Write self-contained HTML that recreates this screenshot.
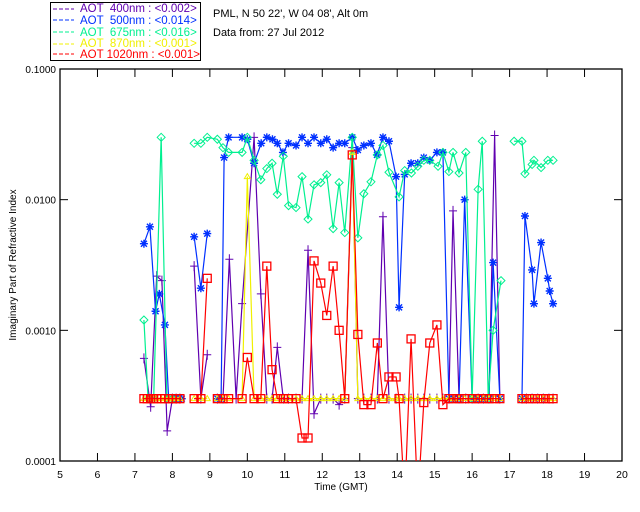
<!DOCTYPE html>
<html><head><meta charset="utf-8"><style>
body{margin:0;background:#fff;}
svg{display:block;font-family:"Liberation Sans",sans-serif;}
</style></head><body>
<svg id="chart" width="640" height="512" viewBox="0 0 640 512" xmlns="http://www.w3.org/2000/svg">
<rect width="640" height="512" fill="#fff"/>
<g>
<rect x="50.5" y="2.5" width="150" height="58" fill="#fff" stroke="#000"/>
<g font-size="11.5">
<g><line x1="53" y1="9" x2="74" y2="9" stroke="#6000b0" stroke-dasharray="4,2"/><text x="80" y="12" fill="#6000b0" xml:space="preserve">AOT  400nm : &lt;0.002&gt;</text></g>
<g><line x1="53" y1="20" x2="74" y2="20" stroke="#0030ff" stroke-dasharray="4,2"/><text x="80" y="24" fill="#0030ff" xml:space="preserve">AOT  500nm : &lt;0.014&gt;</text></g>
<g><line x1="53" y1="32" x2="74" y2="32" stroke="#00f090" stroke-dasharray="4,2"/><text x="80" y="36" fill="#00f090" xml:space="preserve">AOT  675nm : &lt;0.016&gt;</text></g>
<g><line x1="53" y1="44" x2="74" y2="44" stroke="#f0f000" stroke-dasharray="4,2"/><text x="80" y="47" fill="#f0f000" xml:space="preserve">AOT  870nm : &lt;0.001&gt;</text></g>
<g><line x1="53" y1="54" x2="74" y2="54" stroke="#ff0000" stroke-dasharray="4,2"/><text x="80" y="58" fill="#ff0000" xml:space="preserve">AOT 1020nm : &lt;0.001&gt;</text></g>
</g></g>
<text x="213" y="17" font-size="11">PML, N 50 22', W 04 08', Alt 0m</text>
<text x="213" y="36" font-size="11">Data from: 27 Jul 2012</text>
<text transform="translate(16,265) rotate(-90)" text-anchor="middle" font-size="10">Imaginary Part of Refractive Index</text>
<text x="341" y="490" text-anchor="middle" font-size="10">Time (GMT)</text>
<g id="axes"></g>
<defs><clipPath id="pc"><rect x="60" y="69" width="562" height="392"/></clipPath></defs>
<g id="plot" clip-path="url(#pc)"></g>
</svg>
<script>
const xTicks=[5,6,7,8,9,10,11,12,13,14,15,16,17,18,19,20];
const yTicks=[0.0001,0.001,0.01,0.1];
const yTickLabels=["0.0001","0.0010","0.0100","0.1000"];
const F=0.0003;
const t400=[7.24,7.42,7.58,7.72,7.86,8.0,8.1,8.2,null,8.58,8.76,8.93,null,9.2,9.35,9.52,9.7,9.86,10.18,10.36,10.52,10.66,10.8,10.96,11.1,11.3,11.46,11.62,11.78,11.96,12.12,12.29,12.45,12.6,12.8,12.95,13.11,13.3,13.47,13.62,13.78,13.97,14.2,14.37,14.55,14.71,14.87,15.06,15.22,15.38,15.49,15.65,15.83,16.0,16.16,16.3,16.45,16.6,16.74,null,17.33,17.45,17.6,17.75,17.9,18.05,18.16];
const v400=[0.00061,0.00026,0.0026,0.0024,0.00017,F,F,F,null,0.0031,F,0.00065,null,F,F,0.0035,F,0.0016,0.030,0.0019,F,F,0.00074,F,F,F,F,0.0041,0.00023,F,F,F,0.00027,F,0.025,F,F,F,F,0.0074,F,F,F,F,F,F,F,F,F,F,0.0082,F,F,F,F,F,F,0.031,F,null,F,F,F,F,F,F,F];
const t500=[7.24,7.4,7.55,7.65,7.8,7.9,8.05,8.15,8.25,null,8.58,8.76,8.93,null,9.2,9.3,9.38,9.5,9.86,10.0,10.18,10.37,10.52,10.67,10.8,10.95,11.1,11.3,11.46,11.62,11.78,11.96,12.12,12.29,12.45,12.6,12.8,12.95,13.11,13.3,13.46,13.62,13.78,13.97,14.05,14.2,14.37,14.55,14.71,14.87,15.06,15.22,15.38,15.5,15.65,15.8,16.0,16.15,16.3,16.45,16.56,16.74,null,17.33,17.41,17.6,17.65,17.84,18.02,18.07,18.16];
const v500=[0.0046,0.0062,0.0014,0.0019,0.0011,F,F,F,F,null,0.0052,0.0021,0.0055,null,F,F,0.021,0.030,0.030,0.029,0.019,0.027,0.030,0.029,0.027,0.023,0.027,0.026,0.030,0.027,0.030,0.027,0.029,0.025,0.027,0.027,0.030,0.024,0.026,0.027,0.022,0.030,0.028,0.015,0.0015,0.0156,0.019,0.019,0.021,0.020,0.023,0.023,F,F,F,0.010,F,F,F,F,0.0033,F,null,F,0.0075,0.0029,0.0016,0.0047,0.0025,0.0020,0.0016];
const t675=[7.24,7.35,7.5,7.7,7.85,8.0,null,8.58,8.76,8.93,9.2,9.35,9.5,9.86,10.0,10.18,10.36,10.52,10.66,10.8,10.96,11.1,11.3,11.46,11.62,11.78,11.96,12.12,12.29,12.45,12.6,12.8,12.95,13.11,13.3,13.47,13.62,13.78,14.05,14.2,14.38,14.55,14.71,14.87,15.09,15.22,15.38,15.49,15.65,15.83,16.0,16.16,16.27,16.43,16.56,16.77,null,17.12,17.33,17.41,17.6,17.65,17.84,18.02,18.16];
const v675=[0.0012,F,F,0.030,F,F,null,0.027,0.027,0.030,0.029,0.025,0.023,0.023,0.030,0.020,0.0142,0.0173,0.019,0.011,0.0215,0.0090,0.0087,0.015,0.0071,0.013,0.0135,0.0155,0.0060,0.0135,0.0056,0.030,0.0051,0.0111,0.0137,0.022,0.026,0.0162,0.0105,0.0167,0.016,0.018,0.020,0.020,0.018,0.023,0.0164,0.023,0.016,0.023,F,0.012,0.028,F,0.0010,0.0024,null,0.028,0.028,0.0158,0.0186,0.020,0.0176,0.020,0.020];
const t870=[7.24,7.33,7.42,7.5,7.58,7.7,7.8,7.9,8.0,8.1,8.2,null,8.58,8.76,8.93,null,9.2,9.35,9.5,9.86,10.0,10.18,10.36,10.52,10.66,10.8,10.96,11.1,11.3,11.46,11.62,11.78,11.96,12.12,12.29,12.45,12.6,12.8,12.95,13.11,13.3,13.47,13.62,13.78,13.97,14.05,14.2,14.37,14.55,14.71,14.87,15.06,15.22,15.38,15.5,15.65,15.8,16.0,16.15,16.3,16.45,16.6,16.74,null,17.33,17.45,17.6,17.75,17.9,18.05,18.16];
const v870=[F,F,F,F,F,F,F,F,F,F,F,null,F,F,F,null,F,F,F,F,0.015,F,F,F,F,F,F,F,F,F,F,F,F,F,F,F,F,0.023,F,F,F,F,F,F,F,F,F,F,F,F,F,F,F,F,F,F,F,F,F,F,F,F,F,null,F,F,F,F,F,F,F];
const t1020=[7.24,7.33,7.42,7.5,7.58,7.7,7.8,7.9,8.0,8.1,8.2,null,8.58,8.76,8.93,null,9.2,9.35,9.5,9.86,10.0,10.18,10.36,10.52,10.66,10.8,10.96,11.1,11.3,11.46,11.62,11.78,11.96,12.12,12.29,12.45,12.6,12.8,12.95,13.11,13.3,13.47,13.62,13.78,13.97,14.05,14.2,14.37,14.55,14.71,14.87,15.06,15.22,15.38,15.5,15.65,15.8,16.0,16.15,16.3,16.45,16.6,16.74,null,17.33,17.45,17.6,17.75,17.9,18.05,18.16];
const v1020=[F,F,F,F,F,F,F,F,F,F,F,null,F,F,0.0025,null,F,F,F,F,0.00062,F,F,0.0031,0.0005,F,F,F,F,0.00015,0.00015,0.0034,0.0023,0.0013,0.0031,0.0010,F,0.022,0.00093,0.00027,0.00027,0.0008,F,0.00044,0.00044,F,0.00005,0.00086,0.00005,0.00028,0.0008,0.0011,0.00027,F,F,F,F,F,F,F,F,F,F,null,F,F,F,F,F,F,F];
const X0=60,X1=622,Y0=461,Y1=69;
const xs=t=>X0+(t-5)*(X1-X0)/15;
const ys=v=>Y0-(Math.log10(v)+4)*(Y0-Y1)/3;
const NS="http://www.w3.org/2000/svg";
function mk(tag,attrs,parent){const e=document.createElementNS(NS,tag);for(const k in attrs)e.setAttribute(k,attrs[k]);parent.appendChild(e);return e;}
const ax=document.getElementById('axes'),pl=document.getElementById('plot');
const frame=mk('rect',{x:X0,y:Y1,width:X1-X0,height:Y0-Y1,fill:'none',stroke:'#000','stroke-width':1.3},ax);


xTicks.forEach(t=>{const x=xs(t);
 mk('line',{x1:x,y1:Y0,x2:x,y2:Y0-8,stroke:'#000'},ax);
 mk('line',{x1:x,y1:Y1,x2:x,y2:Y1+8,stroke:'#000'},ax);
 const l=mk('text',{x:x,y:Y0+17,'text-anchor':'middle','font-size':10.5},ax);l.textContent=t;
 
 });
yTicks.forEach((v,i)=>{const y=ys(v);
 mk('line',{x1:X0,y1:y,x2:X0+8,y2:y,stroke:'#000'},ax);
 mk('line',{x1:X1,y1:y,x2:X1-8,y2:y,stroke:'#000'},ax);
 const l=mk('text',{x:X0-4,y:y+4,'text-anchor':'end','font-size':10},ax);l.textContent=yTickLabels[i];
 
 });
function marker(g,type,x,y,c){
 if(type==='plus'){mk('path',{d:`M${x-4} ${y}H${x+4}M${x} ${y-5}V${y+5}`,stroke:c,fill:'none'},g);}
 else if(type==='star'){mk('path',{d:`M${x-4} ${y}H${x+4}M${x} ${y-4}V${y+4}M${x-3} ${y-3}L${x+3} ${y+3}M${x-3} ${y+3}L${x+3} ${y-3}`,stroke:c,'stroke-width':1.4,fill:'none'},g);}
 else if(type==='diamond'){mk('path',{d:`M${x} ${y-4}L${x+4} ${y}L${x} ${y+4}L${x-4} ${y}Z`,stroke:c,fill:'none'},g);}
 else if(type==='tri'){mk('path',{d:`M${x} ${y-3}L${x+3} ${y+2}L${x-3} ${y+2}Z`,stroke:c,fill:'none'},g);}
 else {mk('rect',{x:x-4,y:y-4,width:8,height:8,stroke:c,fill:'none','stroke-width':1.3},g);}
}
function series(name,T,V,c,type){
 const g=mk('g',{},pl);
 
 
 let seg=[];const segs=[];
 T.forEach((t,i)=>{if(t===null||V[i]===null){if(seg.length)segs.push(seg);seg=[];}else seg.push([xs(t),ys(V[i])]);});
 if(seg.length)segs.push(seg);
 segs.forEach(s=>mk('polyline',{points:s.map(p=>p.join(',')).join(' '),fill:'none',stroke:c,'stroke-width':1.2},g));
 segs.forEach(s=>s.forEach(p=>marker(g,type,p[0],p[1],c)));
}
series('series-400nm',t400,v400,'#6000b0','plus');
series('series-500nm',t500,v500,'#0030ff','star');
series('series-675nm',t675,v675,'#00f090','diamond');
series('series-870nm',t870,v870,'#f0f000','tri');
series('series-1020nm',t1020,v1020,'#ff0000','square');
</script>
</body></html>
